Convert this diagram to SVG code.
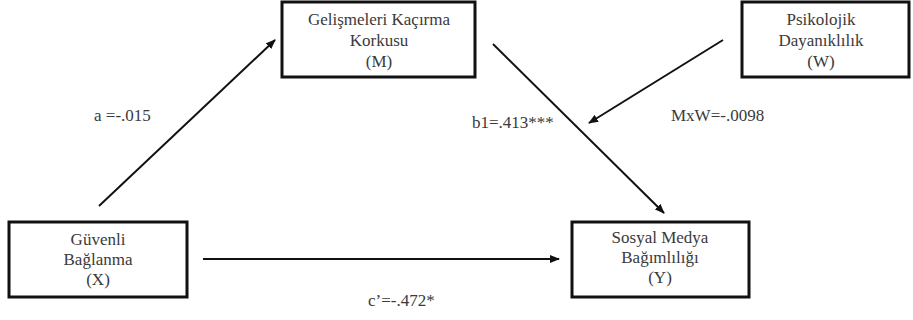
<svg xmlns="http://www.w3.org/2000/svg" width="913" height="320" viewBox="0 0 913 320">
<style>
.box{fill:#fff;stroke:#111;stroke-width:3}
.t{font-family:"Liberation Serif","DejaVu Serif",serif;font-size:17px;fill:#3a3a3a;text-anchor:middle}
.l{font-family:"Liberation Serif","DejaVu Serif",serif;font-size:17px;fill:#3a3a3a}
.c{stroke:#111;stroke-width:2;fill:none;marker-end:url(#ah)}
</style>
<defs>
<marker id="ah" markerWidth="10" markerHeight="8" refX="9" refY="4" orient="auto" markerUnits="userSpaceOnUse">
<path d="M0,0 L10,4 L0,8 z" fill="#111"/>
</marker>
</defs>
<rect width="913" height="320" fill="#fff"/>
<g id="connectors">
<line class="c" x1="99" y1="206" x2="275" y2="40"/>
<line class="c" x1="493" y1="44" x2="664" y2="213"/>
<line class="c" x1="723" y1="40" x2="589" y2="123"/>
<line class="c" x1="203" y1="259" x2="559" y2="259"/>
<text class="l" x="94" y="121">a =-.015</text>
<text class="l" x="472" y="128">b1=.413***</text>
<text class="l" x="671" y="121">MxW=-.0098</text>
<text class="l" x="368" y="306">c’=-.472*</text>
</g>
<g id="nodeM">
<rect class="box" x="282" y="2" width="193" height="75"/>
<text class="t" x="379" y="25">Gelişmeleri Kaçırma</text>
<text class="t" x="379" y="46">Korkusu</text>
<text class="t" x="379" y="67">(M)</text>
</g>
<g id="nodeW">
<rect class="box" x="742" y="2" width="167" height="75"/>
<text class="t" x="821" y="25">Psikolojik</text>
<text class="t" x="821" y="46">Dayanıklılık</text>
<text class="t" x="821" y="67">(W)</text>
</g>
<g id="nodeX">
<rect class="box" x="9" y="222" width="178" height="75"/>
<text class="t" x="98" y="245">Güvenli</text>
<text class="t" x="98" y="265">Bağlanma</text>
<text class="t" x="98" y="285">(X)</text>
</g>
<g id="nodeY">
<rect class="box" x="572" y="222" width="177" height="75"/>
<text class="t" x="660" y="243">Sosyal Medya</text>
<text class="t" x="660" y="263">Bağımlılığı</text>
<text class="t" x="660" y="283">(Y)</text>
</g>
</svg>
